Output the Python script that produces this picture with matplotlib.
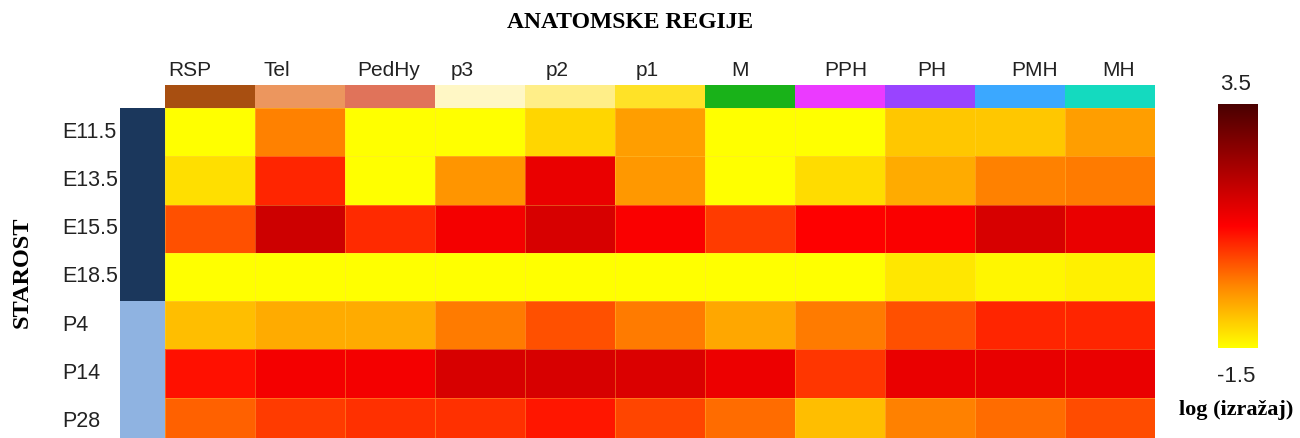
import matplotlib
matplotlib.use("Agg")
import matplotlib.pyplot as plt
import numpy as np
from matplotlib.colors import LinearSegmentedColormap, ListedColormap

# podaci
regions = ["RSP", "Tel", "PedHy", "p3", "p2", "p1", "M", "PPH", "PH", "PMH", "MH"]
region_colors = ["#A84F11", "#EC965E", "#E0735A", "#FFF7C5", "#FFEE88", "#FFE227",
                 "#19B219", "#EB3AFF", "#9944FF", "#3BA8FF", "#14DABF"]
ages = ["E11.5", "E13.5", "E15.5", "E18.5", "P4", "P14", "P28"]
age_group = [0, 0, 0, 0, 1, 1, 1]
group_colors = ["#1B375C", "#8FB3E1"]

e11_5 = [-1.5, -0.18, -1.5, -1.5, -1.06, -0.47, -1.5, -1.5, -0.91, -0.91, -0.47]
e13_5 = [-1.16, 0.66, -1.5, -0.37, 1.28, -0.42, -1.5, -1.11, -0.62, -0.18, -0.13]
e15_5 = [0.26, 1.69, 0.61, 1.14, 1.56, 1.07, 0.46, 1.0, 1.07, 1.56, 1.28]
e18_5 = [-1.5, -1.5, -1.5, -1.5, -1.5, -1.5, -1.5, -1.5, -1.24, -1.40, -1.33]
p4 = [-0.81, -0.62, -0.62, -0.13, 0.26, -0.13, -0.57, -0.13, 0.26, 0.66, 0.66]
p14 = [0.85, 1.14, 1.14, 1.56, 1.56, 1.49, 1.25, 0.51, 1.28, 1.32, 1.28]
p28 = [0.12, 0.46, 0.56, 0.56, 0.80, 0.36, 0.02, -0.81, -0.18, 0.02, 0.31]

vmin, vmax = -1.5, 3.5

values = np.array([e11_5, e13_5, e15_5, e18_5, p4, p14, p28])
cmap = LinearSegmentedColormap.from_list(
    "izrazaj", [(0, "#FFFF00"), (0.25, "#FF8800"), (0.5, "#FF0000"), (1, "#4A0000")])

W, H = 1300, 438
fig = plt.figure(figsize=(W / 100, H / 100), dpi=100)


def px_axes(x0, y0, x1, y1):
    # pikseli (gore-lijevo) -> koordinate figure
    return fig.add_axes([x0 / W, 1 - y1 / H, (x1 - x0) / W, (y1 - y0) / H])


sans = "Liberation Sans"
serif = "Liberation Serif"
txt_color = "#222222"
heat_bottom = 446  # zadnji red je malo odrezan

# heatmapa
ax = px_axes(165, 108, 1155, heat_bottom)
ax.pcolormesh(values, cmap=cmap, vmin=vmin, vmax=vmax, edgecolor=(1, 0.85, 0.3, 0.35), linewidth=0.6)
ax.set_xlim(0, len(regions))
ax.set_ylim(len(ages), 0)
ax.axis("off")

# anotacija regija
ax_top = px_axes(165, 85, 1155, 108)
ax_top.pcolormesh(np.arange(len(regions))[None, :], cmap=ListedColormap(region_colors))
ax_top.set_xlim(0, len(regions))
ax_top.set_ylim(0, 1)
ax_top.axis("off")
label_nudge = [-0.22, -0.26, -0.02, -0.2, -0.14, -0.14, -0.11, 0.07, 0.02, 0.16, 0.1]
for i, (name, dx) in enumerate(zip(regions, label_nudge)):
    ax_top.text(i + 0.5 + dx, 1.2, name, ha="center", va="bottom", fontsize=15,
                family=sans, color=txt_color)

# anotacija starosti
ax_left = px_axes(120, 108, 165, heat_bottom)
ax_left.pcolormesh(np.array(age_group)[:, None], cmap=ListedColormap(group_colors))
ax_left.set_xlim(0, 1)
ax_left.set_ylim(len(ages), 0)
ax_left.axis("off")
for j, name in enumerate(ages):
    ax_left.text(-1.29, j + 0.5, name, ha="left", va="center", fontsize=15.5,
                 family=sans, color=txt_color)

fig.text(630 / W, 1 - 22 / H, "ANATOMSKE REGIJE", ha="center", va="center",
         fontsize=17, fontweight="bold", family=serif)
fig.text(22 / W, 1 - 272 / H, "STAROST", ha="center", va="center", rotation=90,
         fontsize=17.5, fontweight="bold", family=serif)

# skala boja
cax = px_axes(1218, 104, 1258, 348)
grad = np.linspace(vmin, vmax, 256)[:, None]
cax.imshow(grad, aspect="auto", cmap=cmap, origin="lower", extent=[0, 1, vmin, vmax])
cax.axis("off")
fig.text(1236 / W, 1 - 84 / H, f"{vmax}", ha="center", va="center", fontsize=16, family=sans, color=txt_color)
fig.text(1236 / W, 1 - 376 / H, f"{vmin}", ha="center", va="center", fontsize=16, family=sans, color=txt_color)
fig.text(1236 / W, 1 - 410 / H, "log (izražaj)", ha="center", va="center",
         fontsize=16, fontweight="bold", family=serif)

fig.savefig("out.png", dpi=100)
